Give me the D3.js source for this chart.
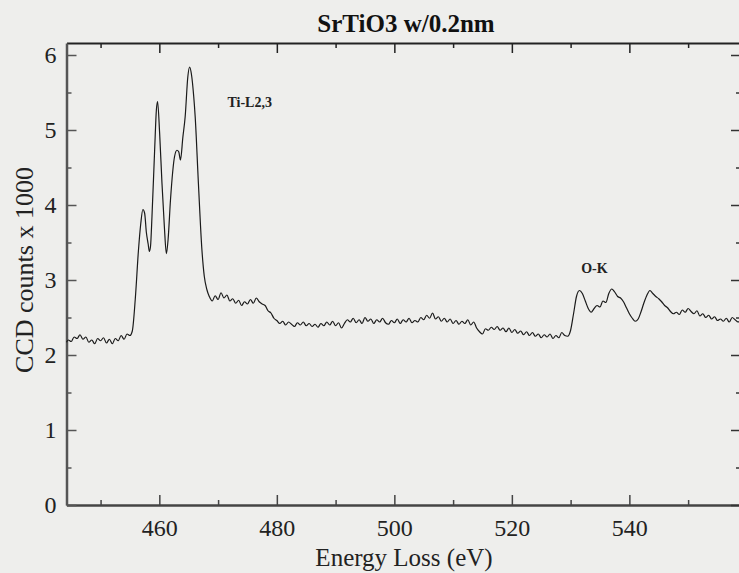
<!DOCTYPE html>
<html>
<head>
<meta charset="utf-8">
<script src="https://cdn.jsdelivr.net/npm/d3@7"></script>
<style>
  html, body { margin: 0; padding: 0; background: #eeeeec; }
  svg { display: block; font-family: "Liberation Serif", "DejaVu Serif", serif; }
</style>
</head>
<body>
<script>
// EELS spectrum, energy in eV, counts in thousands
var energyEv = [
  444.2, 444.5, 445.0, 445.5, 446.0, 446.5, 447.0, 447.5, 448.0, 448.5,
  449.0, 449.5, 450.0, 450.5, 451.0, 451.5, 452.0, 452.5, 453.0, 453.5,
  454.0, 454.5, 455.0, 455.4, 455.9, 456.45, 456.85, 457.2, 457.5, 457.8,
  458.1, 458.3, 458.5, 458.75, 459.2, 459.5, 459.7, 460.05, 460.45, 460.85,
  461.2, 461.5, 461.9, 462.6, 463.0, 463.3, 463.6, 464.0, 464.4, 464.85,
  465.15, 465.45, 465.85, 466.1, 466.65, 467.25, 467.65, 468.1, 468.5, 469.0,
  469.5, 470.0, 470.5, 471.0, 471.5, 472.0, 472.5, 473.0, 473.5, 474.0,
  474.5, 475.0, 475.5, 476.0, 476.5, 477.0, 477.5, 478.0, 478.5, 479.0,
  479.5, 480.0, 480.5, 481.0, 481.5, 482.0, 482.5, 483.0, 483.5, 484.0,
  484.5, 485.0, 485.5, 486.0, 486.5, 487.0, 487.5, 488.0, 488.5, 489.0,
  489.5, 490.0, 490.5, 491.0, 491.5, 492.0, 492.5, 493.0, 493.5, 494.0,
  494.5, 495.0, 495.5, 496.0, 496.5, 497.0, 497.5, 498.0, 498.5, 499.0,
  499.5, 500.0, 500.5, 501.0, 501.5, 502.0, 502.5, 503.0, 503.5, 504.0,
  504.5, 505.0, 505.5, 506.0, 506.5, 507.0, 507.5, 508.0, 508.5, 509.0,
  509.5, 510.0, 510.5, 511.0, 511.5, 512.0, 512.5, 513.0, 513.5, 514.0,
  514.5, 515.0, 515.5, 516.0, 516.5, 517.0, 517.5, 518.0, 518.5, 519.0,
  519.5, 520.0, 520.5, 521.0, 521.5, 522.0, 522.5, 523.0, 523.5, 524.0,
  524.5, 525.0, 525.5, 526.0, 526.5, 527.0, 527.5, 528.0, 528.5, 529.0,
  529.5, 530.0, 530.5, 531.0, 531.5, 532.0, 532.5, 533.0, 533.5, 534.0,
  534.5, 535.0, 535.5, 536.0, 536.5, 537.0, 537.5, 538.0, 538.5, 539.0,
  539.5, 540.0, 540.5, 541.0, 541.5, 542.0, 542.5, 543.0, 543.5, 544.0,
  544.5, 545.0, 545.5, 546.0, 546.5, 547.0, 547.5, 548.0, 548.5, 549.0,
  549.5, 550.0, 550.5, 551.0, 551.5, 552.0, 552.5, 553.0, 553.5, 554.0,
  554.5, 555.0, 555.5, 556.0, 556.5, 557.0, 557.5, 558.0, 558.5, 559.0
];
var countsK = [
  2.17, 2.20, 2.18, 2.24, 2.22, 2.27, 2.21, 2.24, 2.17, 2.20,
  2.15, 2.22, 2.19, 2.23, 2.16, 2.21, 2.15, 2.22, 2.19, 2.26,
  2.21, 2.28, 2.26, 2.32, 2.74, 3.40, 3.76, 3.94, 3.89, 3.63,
  3.48, 3.38, 3.45, 3.85, 4.73, 5.27, 5.38, 4.96, 4.29, 3.72,
  3.35, 3.55, 4.07, 4.65, 4.73, 4.71, 4.60, 4.90, 5.18, 5.71,
  5.84, 5.75, 5.45, 5.18, 4.29, 3.40, 3.05, 2.87, 2.78, 2.72,
  2.79, 2.74, 2.83, 2.76, 2.80, 2.72, 2.75, 2.69, 2.73, 2.66,
  2.71, 2.68, 2.74, 2.69, 2.76, 2.71, 2.68, 2.66, 2.59, 2.56,
  2.49, 2.46, 2.42, 2.45, 2.40, 2.44, 2.41, 2.38, 2.43, 2.40,
  2.44, 2.39, 2.42, 2.38, 2.41, 2.37, 2.42, 2.39, 2.44, 2.40,
  2.45, 2.39, 2.43, 2.36, 2.42, 2.47, 2.44, 2.49, 2.43, 2.47,
  2.42, 2.50, 2.45, 2.48, 2.42, 2.47, 2.44, 2.49, 2.43, 2.41,
  2.46, 2.43, 2.48, 2.42, 2.47, 2.44, 2.49, 2.43, 2.46, 2.44,
  2.50, 2.47, 2.53, 2.49, 2.56, 2.48, 2.51, 2.45, 2.49, 2.44,
  2.48, 2.42, 2.46, 2.41, 2.45, 2.42, 2.47, 2.40, 2.44, 2.36,
  2.31, 2.28, 2.35, 2.33, 2.37, 2.34, 2.38, 2.33, 2.36, 2.31,
  2.36, 2.30, 2.34, 2.29, 2.32, 2.27, 2.31, 2.26, 2.30, 2.25,
  2.28, 2.23, 2.27, 2.24, 2.28, 2.22, 2.26, 2.23, 2.30, 2.26,
  2.25, 2.33, 2.55, 2.78, 2.86, 2.82, 2.72, 2.62, 2.57, 2.62,
  2.66, 2.64, 2.72, 2.70, 2.82, 2.88, 2.84, 2.78, 2.76, 2.71,
  2.63, 2.55, 2.49, 2.45, 2.48, 2.58, 2.70, 2.80, 2.86, 2.82,
  2.78, 2.75, 2.71, 2.66, 2.63, 2.58, 2.55, 2.57, 2.54, 2.60,
  2.57, 2.62, 2.58, 2.55, 2.59, 2.52, 2.55, 2.50, 2.53, 2.48,
  2.51, 2.46, 2.48, 2.45, 2.49, 2.44, 2.50, 2.47, 2.44, 2.46
];

var majorX = [460, 480, 500, 520, 540];
var minorX = [450, 470, 490, 510, 530, 550];
var majorY = [0, 1, 2, 3, 4, 5, 6];
var minorY = [0.5, 1.5, 2.5, 3.5, 4.5, 5.5];

var peakLabels = [
  { text: "Ti-L2,3", e: 471.6, c: 5.31 },
  { text: "O-K", e: 531.8, c: 3.09 }
];

var width = 739, height = 573;
var x = d3.scaleLinear().domain([444.2, 559]).range([66.5, 741]);
var y = d3.scaleLinear().domain([0, 6.16]).range([505, 43]);

var svg = d3.select("body").append("svg").attr("width", width).attr("height", height);

svg.append("rect").attr("width", width).attr("height", height).attr("fill", "#eeeeec");

// title
svg.append("text").attr("x", 406).attr("y", 32).attr("text-anchor", "middle")
  .attr("font-size", 25).attr("font-weight", "bold").attr("fill", "#111")
  .text("SrTiO3 w/0.2nm");

// axes: bottom / top / left / right, ticks pointing inward
function styleAxis(g, col, w) {
  g.select(".domain").attr("stroke", col).attr("stroke-width", w);
  g.selectAll(".tick line").attr("stroke", col).attr("stroke-width", 1.5);
}

var xAxisBottom = svg.append("g").attr("transform", "translate(0,505)")
  .call(d3.axisBottom(x).tickValues(majorX).tickSizeInner(-10).tickSizeOuter(0).tickPadding(14).tickFormat(d3.format("d")));
styleAxis(xAxisBottom, "#444", 2.5);
xAxisBottom.selectAll("text").style("font-size", "24px").style("font-family", "'Liberation Serif', serif").attr("fill", "#222");
var xMinorBottom = svg.append("g").attr("transform", "translate(0,505)")
  .call(d3.axisBottom(x).tickValues(minorX).tickSize(-5).tickFormat(""));
xMinorBottom.select(".domain").remove();
styleAxis(xMinorBottom, "#444", 0);

var xAxisTop = svg.append("g").attr("transform", "translate(0,43)")
  .call(d3.axisTop(x).tickValues(majorX).tickSizeInner(-10).tickSizeOuter(0).tickFormat(""));
styleAxis(xAxisTop, "#222", 2);
var xMinorTop = svg.append("g").attr("transform", "translate(0,43)")
  .call(d3.axisTop(x).tickValues(minorX).tickSize(-5).tickFormat(""));
xMinorTop.select(".domain").remove();
styleAxis(xMinorTop, "#222", 0);

var yAxisLeft = svg.append("g").attr("transform", "translate(66.5,0)")
  .call(d3.axisLeft(y).tickValues(majorY).tickSizeInner(-10).tickSizeOuter(0).tickPadding(10).tickFormat(d3.format("d")));
styleAxis(yAxisLeft, "#555", 2.5);
yAxisLeft.selectAll("text").style("font-size", "24px").style("font-family", "'Liberation Serif', serif").attr("fill", "#222");
var yMinorLeft = svg.append("g").attr("transform", "translate(66.5,0)")
  .call(d3.axisLeft(y).tickValues(minorY).tickSize(-5).tickFormat(""));
yMinorLeft.select(".domain").remove();
styleAxis(yMinorLeft, "#555", 0);

var yAxisRight = svg.append("g").attr("transform", "translate(741,0)")
  .call(d3.axisRight(y).tickValues(majorY).tickSizeInner(-10).tickSizeOuter(0).tickFormat(""));
styleAxis(yAxisRight, "#333", 2);
var yMinorRight = svg.append("g").attr("transform", "translate(741,0)")
  .call(d3.axisRight(y).tickValues(minorY).tickSize(-5).tickFormat(""));
yMinorRight.select(".domain").remove();
styleAxis(yMinorRight, "#333", 0);

// axis titles
svg.append("text").attr("x", 404).attr("y", 566).attr("text-anchor", "middle")
  .attr("font-size", 25).attr("fill", "#222").text("Energy Loss (eV)");
svg.append("text").attr("transform", "translate(33,270) rotate(-90)").attr("text-anchor", "middle")
  .attr("font-size", 26).attr("fill", "#222").text("CCD counts x 1000");

// spectrum
var pts = energyEv.map(function(e, i) { return { e: e, c: countsK[i] }; });
var line = d3.line().x(function(d) { return x(d.e); }).y(function(d) { return y(d.c); }).curve(d3.curveMonotoneX);
svg.append("path").datum(pts).attr("fill", "none").attr("stroke", "#1a1a1a")
  .attr("stroke-width", 1.2).attr("d", line);

// edge labels
svg.selectAll(".peak").data(peakLabels).enter().append("text").attr("class", "peak")
  .attr("x", function(d) { return x(d.e); }).attr("y", function(d) { return y(d.c); })
  .attr("font-size", 14).attr("font-weight", "bold").attr("fill", "#222")
  .text(function(d) { return d.text; });
</script>
</body>
</html>
